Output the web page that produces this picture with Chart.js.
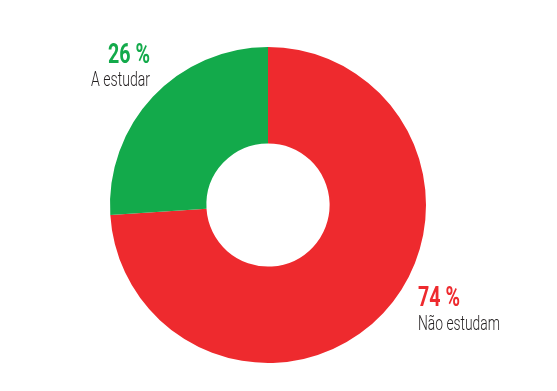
<!DOCTYPE html>
<html>
  <head>
    <meta charset="utf-8">
    <title>Estudantes</title>
    <script src="https://cdn.jsdelivr.net/npm/chart.js@4"></script>
    <style>
      html, body { margin: 0; padding: 0; background: #fff; }
      #wrap { width: 557px; height: 391px; position: relative; }
    </style>
  </head>
  <body>
    <div id="wrap"><canvas id="myChart"></canvas></div>

    <script type="text/javascript">
      // data
      var categories = ['Não estudam', 'A estudar'];
      var values = [74, 26];
      var colors = ['#ee2a2e', '#13aa4b'];

      var fontFamily = 'Roboto, "Liberation Sans", sans-serif';

      // label boxes: left x, right x, baselines of the two lines
      var labelPos = [
        { left: 418, pctW: 42, nameW: 82, y1: 306, y2: 330, alignRight: false },
        { left: 91, right: 150, pctW: 42, nameW: 59, y1: 63, y2: 86, alignRight: true }
      ];

      // draw text squeezed to a given width (the original uses a condensed face)
      function squeezeText(ctx, text, x, y, w, right) {
        var natural = ctx.measureText(text).width;
        var s = w / natural;
        ctx.save();
        ctx.translate(right ? x - w : x, y);
        ctx.scale(s, 1);
        ctx.textAlign = 'left';
        ctx.fillText(text, 0, 0);
        ctx.restore();
      }

      var labelPlugin = {
        id: 'sliceLabels',
        afterDraw: function(chart) {
          var ctx = chart.ctx;
          ctx.save();
          ctx.textBaseline = 'alphabetic';
          for (var i = 0; i < categories.length; i++) {
            var p = labelPos[i];
            ctx.fillStyle = colors[i];
            ctx.font = 'bold 28px ' + fontFamily;
            var pct = values[i] + ' %';
            if (p.alignRight) squeezeText(ctx, pct, p.right, p.y1, p.pctW, true);
            else squeezeText(ctx, pct, p.left, p.y1, p.pctW, false);
            ctx.fillStyle = '#231f20';
            ctx.font = '300 21px ' + fontFamily;
            squeezeText(ctx, categories[i], p.left, p.y2, p.nameW, false);
          }
          ctx.restore();
        }
      };

      var ctx = document.getElementById('myChart').getContext('2d');
      var chart = new Chart(ctx, {
        type: 'doughnut',
        data: {
          labels: categories,
          datasets: [{
            data: values,
            backgroundColor: colors,
            borderWidth: 0
          }]
        },
        options: {
          responsive: true,
          maintainAspectRatio: false,
          animation: false,
          cutout: '39%',
          layout: {
            padding: { left: 110, right: 131, top: 47, bottom: 28 }
          },
          plugins: {
            legend: { display: false },
            tooltip: { enabled: false }
          }
        },
        plugins: [labelPlugin]
      });
    </script>
  </body>
</html>
